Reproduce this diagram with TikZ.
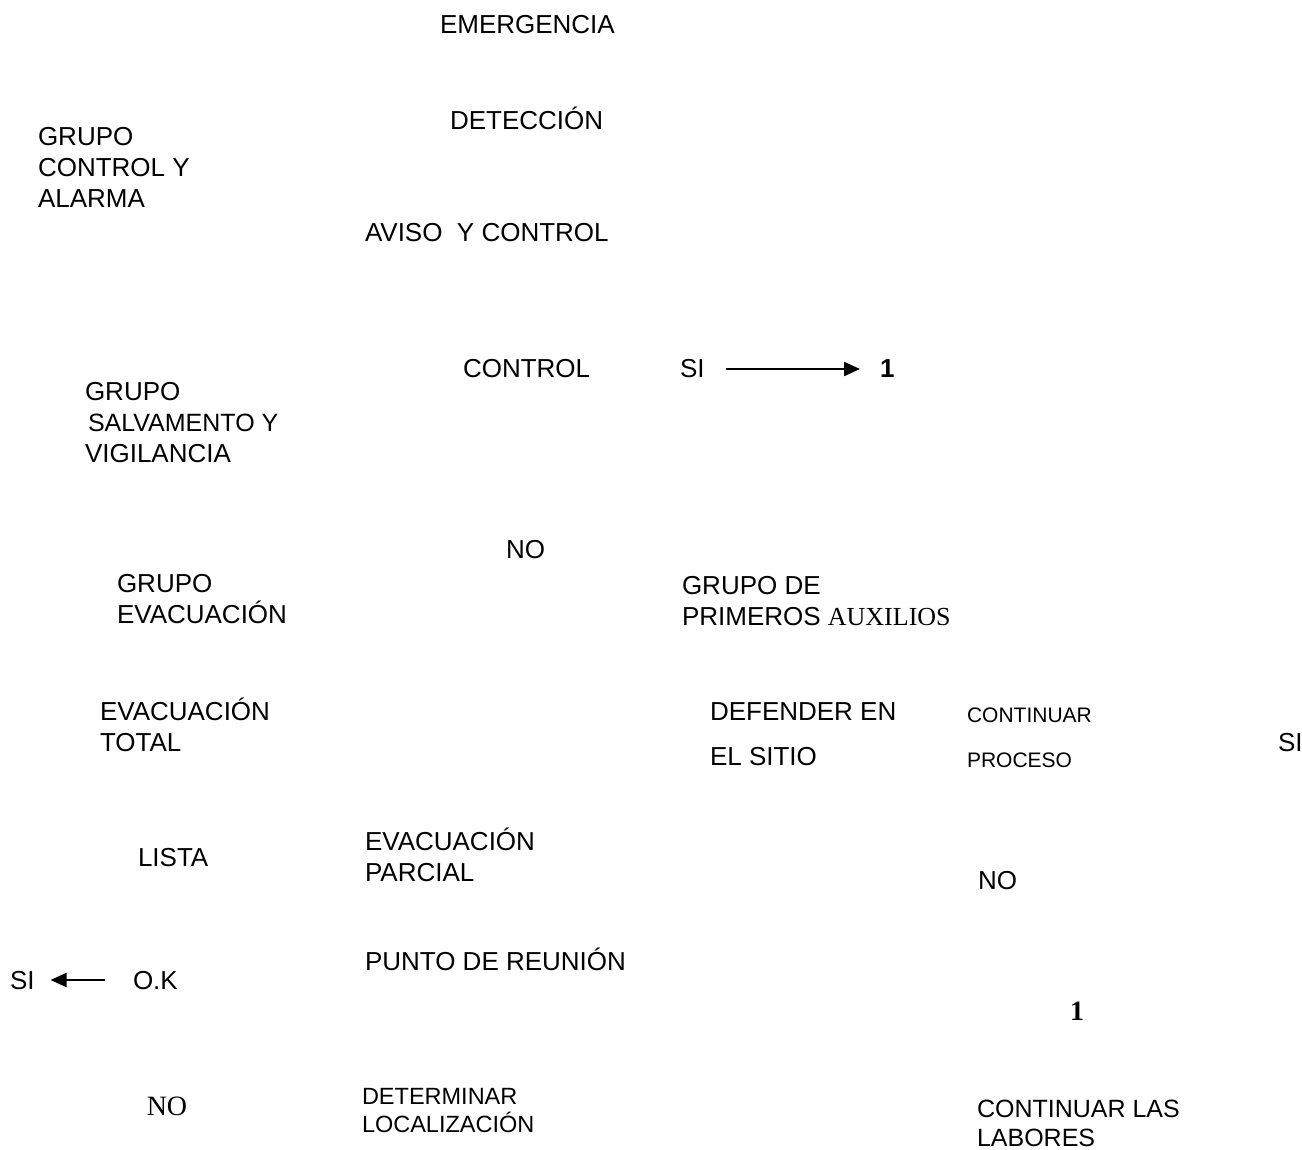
\documentclass[tikz,border=0pt]{standalone}
\usepackage{fontspec}
\setmainfont{Liberation Sans}
\newfontfamily\serifface{Liberation Serif}
\usetikzlibrary{arrows.meta}
\newcommand{\blk}[1]{\begin{tabular}[t]{@{}l@{}}#1\end{tabular}}
\tikzset{
  lbl/.style={inner sep=0pt, outer sep=0pt, anchor=base west, font=\fontsize{26}{31}\selectfont},
  small/.style={lbl, font=\fontsize{21}{45}\selectfont},
  mid/.style={lbl, font=\fontsize{23.5}{25}\selectfont},
  arr/.style={line width=2.2pt, -{Triangle[length=16pt,width=14pt]}},
}
\begin{document}
\begin{tikzpicture}[x=1pt,y=-1pt]
\useasboundingbox (0,0) rectangle (1302,1150);
\node[lbl] (emerg) at (440,34) {EMERGENCIA};
\node[lbl] (detec) at (450,130) {DETECCIÓN};
\node[lbl] (gca) at (38,146) {\blk{GRUPO\\CONTROL Y\\ALARMA}};
\node[lbl] (aviso) at (365,242) {AVISO\ \ Y CONTROL};
\node[lbl] (control) at (463,378) {CONTROL};
\node[lbl] (si1) at (680,378) {SI};
\node[lbl, font=\fontsize{26}{31}\selectfont\bfseries] (one1) at (880,378) {1};
\node[lbl] (gsv) at (85,401) {\blk{GRUPO\\\hspace{3pt}{\fontsize{25}{31}\selectfont SALVAMENTO Y}\\VIGILANCIA}};
\node[lbl] (no1) at (506,558) {NO};
\node[lbl] (gev) at (117,592) {\blk{GRUPO\\EVACUACIÓN}};
\node[lbl] (gpa) at (682,594) {\blk{GRUPO DE\\PRIMEROS {\serifface AUXILIOS}}};
\node[lbl] (evt) at (100,720) {\blk{EVACUACIÓN\\TOTAL}};
\node[lbl] (def) at (710,720) {\blk{DEFENDER EN\\[14pt]EL SITIO}};
\node[small] (cont) at (967,722.5) {\blk{CONTINUAR\\PROCESO}};
\node[lbl] (si2) at (1278,751) {SI};
\node[lbl] (lista) at (138,866) {LISTA};
\node[lbl] (evp) at (365,850) {\blk{EVACUACIÓN\\PARCIAL}};
\node[lbl] (no2) at (978,889) {NO};
\node[lbl] (punto) at (365,970) {PUNTO DE REUNIÓN};
\node[lbl] (si3) at (10,989) {SI};
\node[lbl] (ok) at (133,989) {O.K};
\node[lbl, anchor=base, font=\fontsize{28}{31}\serifface\bfseries] (one2) at (1077,1020) {1};
\node[mid] (detloc) at (362,1104.5) {\blk{DETERMINAR\\LOCALIZACIÓN}};
\node[lbl, font=\fontsize{25}{29}\selectfont] (contlab) at (977,1117) {\blk{CONTINUAR LAS\\LABORES}};
\node[lbl, anchor=base, font=\fontsize{28}{31}\serifface] (no3) at (167,1115) {NO};
\draw[arr, shorten <=21pt, shorten >=20pt] ([yshift=9pt]si1.base east) -- ([yshift=9pt]si1.base east -| one1.west);
\draw[arr, shorten <=28pt, shorten >=16pt] ([yshift=9pt]ok.base west) -- ([yshift=9pt]ok.base west -| si3.east);
\end{tikzpicture}
\end{document}
